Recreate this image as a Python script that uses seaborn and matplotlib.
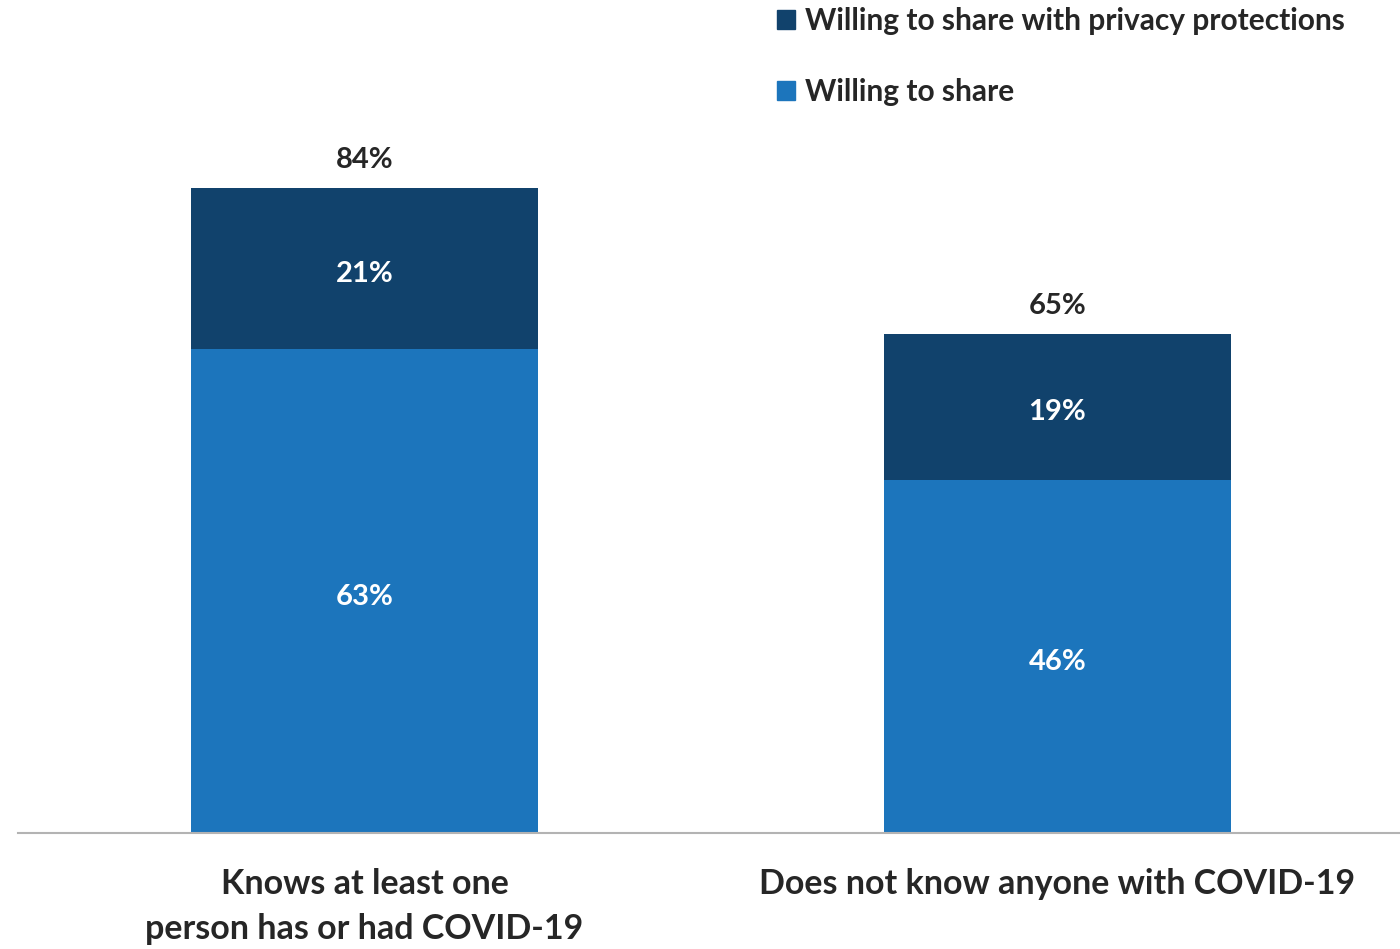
import numpy as np
import pandas as pd
import seaborn as sns
import matplotlib.pyplot as plt
from matplotlib.patches import Patch

categories = ['Knows at least one\nperson has or had COVID-19', 'Does not know anyone with COVID-19']
willing = [63, 46]
willing_privacy = [21, 19]
series_names = ['Willing to share with privacy protections', 'Willing to share']

dark_blue = '#11426C'
light_blue = '#1C75BC'
text_grey = '#262626'

totals = [a + b for a, b in zip(willing, willing_privacy)]
df = pd.DataFrame({'category': categories, 'willing': willing,
                   'privacy': willing_privacy, 'total': totals})

sns.set_style('white')
plt.rcParams['font.family'] = ['Lato', 'DejaVu Sans']

fig = plt.figure(figsize=(14, 9.49), dpi=100)
ax = fig.add_axes([18 / 1400, 116 / 949, (1404 - 18) / 1400, 833 / 949])

# stacked bars: draw totals first, then the bottom part over them
sns.barplot(data=df, x='category', y='total', color=dark_blue, width=0.5,
            saturation=1, linewidth=0, ax=ax)
sns.barplot(data=df, x='category', y='willing', color=light_blue, width=0.5,
            saturation=1, linewidth=0, ax=ax)

ax.set_xlim(-0.5, 1.5)
ax.set_ylim(0, 108.5)
ax.set_xlabel('')
ax.set_ylabel('')
ax.set_yticks([])
ax.tick_params(axis='x', length=0, pad=25)
for lbl in ax.get_xticklabels():
    lbl.set_fontsize(24.5)
    lbl.set_fontweight('bold')
    lbl.set_color(text_grey)
    lbl.set_linespacing(1.5)

for side in ['top', 'right', 'left']:
    ax.spines[side].set_visible(False)
ax.spines['bottom'].set_color('#b3b3b3')
ax.spines['bottom'].set_linewidth(1.5)


def add_label(x, y, s, color):
    ax.annotate(s, (x, y), xytext=(0, -4), textcoords='offset points', ha='center',
                va='center', color=color, fontsize=21, fontweight='bold')


# value labels
for i, row in df.iterrows():
    add_label(i, row['willing'] / 2, f"{row['willing']}%", 'white')
    add_label(i, row['willing'] + row['privacy'] / 2, f"{row['privacy']}%", 'white')
    add_label(i, row['total'] + 4.4, f"{row['total']}%", text_grey)

handles = [Patch(color=dark_blue), Patch(color=light_blue)]
leg = fig.legend(handles, series_names, loc='upper left', bbox_to_anchor=(765 / 1400, 1.005),
                 frameon=False, fontsize=21.5, handlelength=0.6, handleheight=0.6,
                 handletextpad=0.35, labelspacing=1.42, borderaxespad=0)
for t in leg.get_texts():
    t.set_fontweight('bold')
    t.set_color(text_grey)

fig.savefig('out.png', dpi=100)
